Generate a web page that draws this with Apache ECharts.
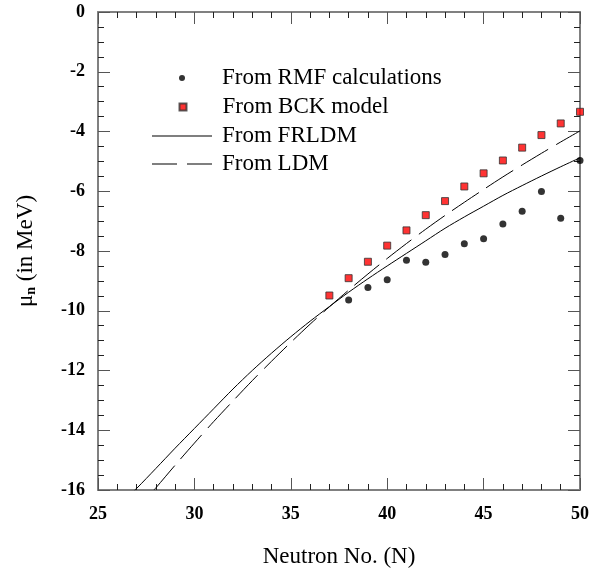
<!DOCTYPE html>
<html>
<head>
<meta charset="utf-8">
<script src="https://cdn.jsdelivr.net/npm/echarts@6/dist/echarts.min.js"></script>
<style>html,body{margin:0;padding:0;background:#fff}#c{width:597px;height:573px}</style>
</head>
<body>
<div id="c"></div>
<script>
// Data
var rmfN = [38, 39, 40, 41, 42, 43, 44, 45, 46, 47, 48, 49, 50];
var rmfMu = [-9.64, -9.22, -8.96, -8.31, -8.38, -8.12, -7.76, -7.59, -7.1, -6.67, -6.01, -6.9, -4.97];

var bckN = [37, 38, 39, 40, 41, 42, 43, 44, 45, 46, 47, 48, 49, 50];
var bckMu = [-9.49, -8.91, -8.36, -7.82, -7.31, -6.8, -6.33, -5.84, -5.4, -4.97, -4.54, -4.12, -3.73, -3.34];

var frldmN = [26.9, 27, 28, 29, 30, 31, 32, 33, 34, 35, 36, 37, 38, 39, 40, 41, 42, 43, 44, 45, 46, 47, 48, 49, 50];
var frldmMu = [-16.0, -15.95, -15.28, -14.6, -13.94, -13.28, -12.62, -12.0, -11.42, -10.87, -10.35, -9.86, -9.38, -8.93, -8.5, -8.08, -7.66, -7.24, -6.86, -6.5, -6.14, -5.81, -5.49, -5.18, -4.88];

var ldmN = [27.9, 28, 29, 30, 31, 32, 33, 34, 35, 36, 37, 38, 39, 40, 41, 42, 43, 44, 45, 46, 47, 48, 49, 50];
var ldmMu = [-16.0, -15.93, -15.17, -14.43, -13.71, -13.02, -12.34, -11.69, -11.06, -10.45, -9.87, -9.31, -8.77, -8.25, -7.75, -7.27, -6.81, -6.37, -5.94, -5.52, -5.12, -4.73, -4.35, -3.98];

var xTicks = {min: 25, max: 50, interval: 5};
var yTicks = {min: -16, max: 0, interval: 2};

var seriesNames = ['From RMF calculations', 'From BCK model', 'From FRLDM', 'From LDM'];

function pairs(xs, ys) { return xs.map(function (x, i) { return [x, ys[i]]; }); }

var serif = 'Liberation Serif';
var axisLineC = '#808080';

function mkX(pos, show) {
  return {
    type: 'value', position: pos, min: xTicks.min, max: xTicks.max, interval: xTicks.interval,
    axisLine: {show: true, onZero: false, lineStyle: {color: axisLineC, width: 2}},
    axisTick: {show: true, inside: true, length: 12, lineStyle: {color: '#555', width: 1}},
    minorTick: {show: true, splitNumber: 5, length: 6, lineStyle: {color: '#222', width: 1}},
    axisLabel: {show: show, margin: 15, fontFamily: serif, fontWeight: 'bold', fontSize: 18, color: '#000'},
    splitLine: {show: false},
    name: show ? 'Neutron No. (N)' : '', nameLocation: 'middle', nameGap: 55,
    nameTextStyle: {fontFamily: serif, fontSize: 23, color: '#000'}
  };
}
function mkY(pos, show) {
  return {
    type: 'value', position: pos, min: yTicks.min, max: yTicks.max, interval: yTicks.interval,
    axisLine: {show: true, onZero: false, lineStyle: {color: axisLineC, width: 2}},
    axisTick: {show: true, inside: true, length: 12, lineStyle: {color: '#555', width: 1}},
    minorTick: {show: true, splitNumber: 4, length: 6, lineStyle: {color: '#222', width: 1}},
    axisLabel: {show: show, margin: 13, fontFamily: serif, fontWeight: 'bold', fontSize: 18, color: '#000'},
    splitLine: {show: false},
    name: show ? '{m|μ}{s|n}{m| (in MeV)}' : '', nameLocation: 'middle', nameGap: 60, nameRotate: 90,
    nameTextStyle: {
      fontFamily: serif, fontSize: 23, color: '#000',
      rich: {
        m: {fontFamily: serif, fontSize: 23, color: '#000'},
        s: {fontFamily: serif, fontSize: 14, fontWeight: 'bold', color: '#000', padding: [10, 0, 0, 0]}
      }
    }
  };
}

var legendText = {fontFamily: serif, fontSize: 23, color: '#000', lineHeight: 24};
function mkLegend(name, icon, left, top, w, h, pad) {
  return {
    orient: 'horizontal', left: left, top: top, itemWidth: w, itemHeight: h,
    textStyle: Object.assign({}, legendText, {padding: [0, 0, 0, pad]}),
    data: [{name: name, icon: icon}]
  };
}

var chart = echarts.init(document.getElementById('c'), null, {renderer: 'canvas'});
chart.setOption({
  animation: false,
  backgroundColor: '#fff',
  grid: {left: 98, right: 17, top: 12, bottom: 81, containLabel: false},
  xAxis: [mkX('bottom', true), mkX('top', false)],
  yAxis: [mkY('left', true), mkY('right', false)],
  legend: [
    mkLegend(seriesNames[0], 'circle', 174, 61, 6, 6, 32),
    mkLegend(seriesNames[1], 'rect', 173.5, 90, 7, 7, 31),
    mkLegend(seriesNames[2], 'path://M0,0H60V1H0Z', 147, 119, 60, 1, 5),
    mkLegend(seriesNames[3], 'path://M0,0H25V1H0ZM35,0H60V1H35Z', 147, 147, 60, 1, 5)
  ],
  series: [
    {name: seriesNames[0], type: 'scatter', xAxisIndex: 0, yAxisIndex: 0, symbol: 'circle', symbolSize: 7,
      itemStyle: {color: '#000'}, data: pairs(rmfN, rmfMu)},
    {name: seriesNames[1], type: 'scatter', xAxisIndex: 0, yAxisIndex: 0, symbol: 'rect', symbolSize: 7,
      itemStyle: {color: '#ff0000', borderColor: '#333', borderWidth: 1}, data: pairs(bckN, bckMu)},
    {name: seriesNames[2], type: 'line', xAxisIndex: 0, yAxisIndex: 0, symbol: 'none', smooth: 0.3,
      lineStyle: {color: '#000', width: 1}, itemStyle: {color: '#000'}, data: pairs(frldmN, frldmMu)},
    {name: seriesNames[3], type: 'line', xAxisIndex: 0, yAxisIndex: 0, symbol: 'none', smooth: 0.3,
      lineStyle: {color: '#000', width: 1, type: [32, 9]}, itemStyle: {color: '#000'}, data: pairs(ldmN, ldmMu)}
  ]
});
</script>
</body>
</html>
